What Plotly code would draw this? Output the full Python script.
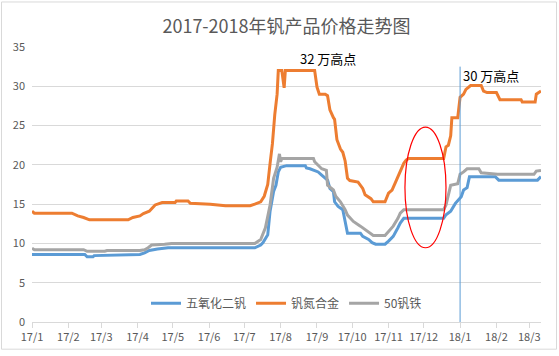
import plotly.graph_objects as go

title_text = "2017-2018年钒产品价格走势图"
series_names = ["五氧化二钒", "钒氮合金", "50钒铁"]
series_colors = ["#5B9BD5", "#ED7D31", "#A5A5A5"]

v2o5_dates = ["2017-01-01", "2017-02-15", "2017-02-17", "2017-02-22", "2017-02-23", "2017-03-25",
              "2017-04-03", "2017-04-07", "2017-04-11", "2017-04-18", "2017-04-27", "2017-07-10",
              "2017-07-15", "2017-07-17", "2017-07-21", "2017-07-23", "2017-07-26", "2017-07-28",
              "2017-07-30", "2017-08-01", "2017-08-06", "2017-08-22", "2017-08-23", "2017-08-26",
              "2017-09-02", "2017-09-05", "2017-09-10", "2017-09-12", "2017-09-15", "2017-09-16",
              "2017-09-19", "2017-09-23", "2017-09-25", "2017-09-27", "2017-10-08", "2017-10-10",
              "2017-10-15", "2017-10-18", "2017-10-21", "2017-10-29", "2017-11-01", "2017-11-05",
              "2017-11-09", "2017-11-11", "2017-11-14", "2017-12-18", "2017-12-20", "2017-12-24",
              "2017-12-28", "2017-12-30", "2018-01-02", "2018-01-04", "2018-01-07", "2018-01-09",
              "2018-01-31", "2018-02-03", "2018-03-08", "2018-03-11"]
v2o5_values = [8.6, 8.6, 8.3, 8.3, 8.45, 8.5,
               8.6, 8.8, 9.1, 9.3, 9.45, 9.45,
               9.8, 10.1, 11.1, 14.1, 16.6, 17.4,
               19.1, 19.7, 19.9, 19.9, 19.6, 19.5,
               19.1, 18.7, 18.05, 17.0, 16.6, 15.3,
               14.7, 14.3, 12.6, 11.3, 11.3, 10.9,
               10.5, 10.1, 9.9, 9.9, 10.3, 10.9,
               12.0, 12.6, 13.2, 13.2, 13.65, 14.1,
               15.1, 15.5, 15.95, 16.8, 17.1, 18.5,
               18.5, 18.05, 18.05, 18.5]

vn_dates = ["2017-01-01", "2017-01-03", "2017-02-04", "2017-02-09", "2017-02-14", "2017-02-19",
            "2017-03-24", "2017-03-28", "2017-04-03", "2017-04-06", "2017-04-11", "2017-04-16",
            "2017-04-22", "2017-05-03", "2017-05-04", "2017-05-14", "2017-05-16", "2017-06-02",
            "2017-06-15", "2017-07-06", "2017-07-10", "2017-07-15", "2017-07-18", "2017-07-21",
            "2017-07-23", "2017-07-25", "2017-07-27", "2017-07-29", "2017-07-30", "2017-08-02",
            "2017-08-04", "2017-08-05", "2017-08-30", "2017-09-01", "2017-09-03", "2017-09-08",
            "2017-09-10", "2017-09-12", "2017-09-15", "2017-09-16", "2017-09-18", "2017-09-21",
            "2017-09-23", "2017-09-25", "2017-09-27", "2017-09-29", "2017-10-06", "2017-10-10",
            "2017-10-12", "2017-10-17", "2017-10-19", "2017-10-29", "2017-11-01", "2017-11-04",
            "2017-11-07", "2017-11-10", "2017-11-12", "2017-11-14", "2017-11-16", "2017-11-18",
            "2017-12-18", "2017-12-20", "2017-12-22", "2017-12-24", "2017-12-25", "2017-12-30",
            "2018-01-01", "2018-01-04", "2018-01-06", "2018-01-10", "2018-01-19", "2018-01-21",
            "2018-01-24", "2018-02-01", "2018-02-04", "2018-02-22", "2018-02-23", "2018-03-06",
            "2018-03-07", "2018-03-11"]
vn_values = [14.1, 13.85, 13.85, 13.5, 13.3, 13.0,
             13.0, 13.3, 13.5, 13.8, 14.1, 14.9,
             15.2, 15.2, 15.4, 15.4, 15.1, 15.0,
             14.8, 14.8, 15.0, 15.3, 16.0, 17.5,
             20.2, 22.7, 26.4, 29.0, 32.0, 32.0,
             29.8, 32.0, 32.0, 29.9, 29.0, 29.0,
             28.8, 27.0, 26.0, 25.8, 23.2, 22.0,
             21.6, 20.5, 18.3, 18.0, 17.8, 17.0,
             16.2, 15.7, 15.3, 15.3, 16.4, 16.8,
             17.8, 18.9, 19.7, 20.2, 20.6, 20.8,
             20.8, 22.3, 22.5, 23.7, 26.0, 26.0,
             28.6, 29.0, 29.6, 30.1, 30.1, 29.4,
             29.2, 29.2, 28.3, 28.3, 28.0, 28.0,
             29.0, 29.4]

fev_dates = ["2017-01-01", "2017-01-03", "2017-02-14", "2017-02-17", "2017-03-04", "2017-03-06",
             "2017-04-03", "2017-04-07", "2017-04-10", "2017-04-13", "2017-04-24", "2017-04-30",
             "2017-07-10", "2017-07-15", "2017-07-19", "2017-07-23", "2017-07-26", "2017-07-29",
             "2017-07-31", "2017-08-01", "2017-08-02", "2017-08-29", "2017-08-30", "2017-09-05",
             "2017-09-09", "2017-09-10", "2017-09-15", "2017-09-17", "2017-09-21", "2017-09-25",
             "2017-09-27", "2017-10-02", "2017-10-08", "2017-10-12", "2017-10-17", "2017-10-19",
             "2017-10-29", "2017-11-01", "2017-11-05", "2017-11-09", "2017-11-11", "2017-11-14",
             "2017-12-18", "2017-12-20", "2017-12-22", "2017-12-24", "2017-12-30", "2018-01-01",
             "2018-01-04", "2018-01-07", "2018-01-17", "2018-01-19", "2018-02-02", "2018-03-05",
             "2018-03-07", "2018-03-11"]
fev_values = [9.4, 9.2, 9.2, 9.0, 9.0, 9.1,
              9.1, 9.2, 9.45, 9.8, 9.9, 10.0,
              10.0, 10.5, 12.0, 14.9, 18.3, 19.7,
              21.4, 20.4, 20.8, 20.8, 20.4, 19.5,
              19.3, 17.4, 16.8, 16.0, 15.3, 14.3,
              13.6, 12.8, 12.2, 11.75, 11.3, 11.0,
              11.0, 11.5, 12.2, 13.2, 13.85, 14.3,
              14.3, 14.9, 16.0, 17.4, 17.6, 18.8,
              19.1, 19.5, 19.5, 19.0, 18.8, 18.8,
              19.2, 19.3]

tick_dates = ["2017-01-01", "2017-02-01", "2017-03-01", "2017-04-01", "2017-05-01", "2017-06-01",
              "2017-07-01", "2017-08-01", "2017-09-01", "2017-10-01", "2017-11-01", "2017-12-01",
              "2018-01-01", "2018-02-01", "2018-03-01"]
tick_labels = ["17/1", "17/2", "17/3", "17/4", "17/5", "17/6", "17/7", "17/8", "17/9",
               "17/10", "17/11", "17/12", "18/1", "18/2", "18/3"]
y_ticks = [0, 5, 10, 15, 20, 25, 30, 35]

annot_texts = ["32 万高点", "30 万高点"]

FONT = "Noto Sans CJK SC, Noto Sans, sans-serif"
fig = go.Figure()
for name, color, xs, ys in [(series_names[0], series_colors[0], v2o5_dates, v2o5_values),
                            (series_names[1], series_colors[1], vn_dates, vn_values),
                            (series_names[2], series_colors[2], fev_dates, fev_values)]:
    fig.add_trace(go.Scatter(x=xs, y=ys, name=name, mode="lines",
                             line=dict(color=color, width=3)))

fig.update_layout(
    width=559, height=356,
    margin=dict(l=32, r=18, t=47, b=31),
    paper_bgcolor="white", plot_bgcolor="white",
    font=dict(family=FONT, color="#595959", size=11),
    title=dict(text=title_text, x=0.5, xanchor="center", xref="paper",
               y=0.925, yanchor="middle", yref="container",
               font=dict(size=18, color="#595959", family=FONT)),
    showlegend=True,
    legend=dict(orientation="h", x=0.5, xanchor="center", y=0.068, yanchor="middle",
                font=dict(size=12, color="#595959"), bgcolor="rgba(0,0,0,0)",
                itemwidth=30, tracegroupgap=0),
    xaxis=dict(type="date", range=["2017-01-01", "2018-03-11"],
               tickvals=tick_dates, ticktext=tick_labels, tickangle=0,
               showgrid=False, showline=True, linecolor="#D9D9D9", linewidth=1,
               ticks="outside", ticklen=5, tickcolor="#D9D9D9",
               tickfont=dict(size=11, color="#595959"), zeroline=False),
    yaxis=dict(range=[0, 35], tickvals=y_ticks, showgrid=True, gridcolor="#D9D9D9",
               gridwidth=1, zeroline=False, showline=False,
               tickfont=dict(size=11, color="#595959"), ticklabelstandoff=6),
)

# red ellipse highlighting the flat period
fig.add_shape(type="circle", xref="x", yref="y",
              x0="2017-11-15", x1="2017-12-20", y0=9.45, y1=24.8,
              line=dict(color="#FF0000", width=1.2))
# vertical marker at 18/1
fig.add_shape(type="line", xref="x", yref="y",
              x0="2018-01-01", x1="2018-01-01", y0=0, y1=32.5,
              line=dict(color="#5B9BD5", width=1))
# outer chart border
fig.add_shape(type="rect", xref="paper", yref="paper",
              x0=-0.0599, x1=1.0305, y0=-0.0989, y1=1.1637,
              line=dict(color="#D9D9D9", width=1), layer="below")

fig.add_annotation(x="2017-09-10", y=33.6, xref="x", yref="y", text=annot_texts[0],
                   showarrow=False, xanchor="center", yanchor="middle",
                   font=dict(size=13, color="#000000", family=FONT))
fig.add_annotation(x="2018-01-02", y=31.4, xref="x", yref="y", text=annot_texts[1],
                   showarrow=False, xanchor="left", yanchor="middle",
                   font=dict(size=13, color="#000000", family=FONT))

fig.write_html("out.html", config={"displayModeBar": False},
               post_script=["document.body.style.margin='0px';document.body.style.padding='0px';"])
